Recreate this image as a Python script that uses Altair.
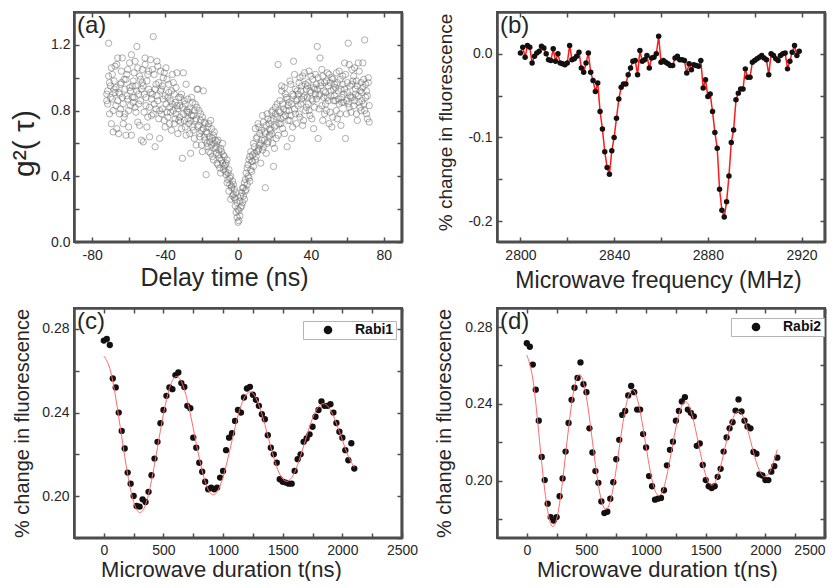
import altair as alt
import pandas as pd

FONT = "Liberation Sans"
INK = "#262626"
EDGE = "#4d4d4d"

# ---------------- (a) g2(tau) ----------------
a_t = [round(-72 + 0.5 * i, 1) for i in range(289)]
a_g2_1 = [
    0.86, 0.92, 1.21, 0.97, 0.88, 0.72, 1.02, 0.80, 0.93, 1.07,
    0.83, 0.69, 1.12, 0.91, 0.78, 0.96, 1.04, 0.88, 0.72, 0.99,
    0.93, 0.65, 1.02, 0.87, 0.80, 1.09, 0.92, 0.65, 0.95, 0.85,
    1.03, 0.82, 0.95, 1.19, 0.73, 0.90, 1.01, 0.86, 0.62, 0.97,
    0.61, 0.90, 1.08, 0.83, 0.98, 0.76, 1.04, 0.64, 0.91, 0.87,
    1.05, 1.25, 0.84, 0.58, 0.96, 0.89, 1.07, 0.75, 0.63, 0.92,
    0.78, 0.95, 0.87, 1.03, 0.70, 0.84, 0.99, 0.76, 0.91, 0.82,
    0.86, 0.68, 1.02, 0.80, 0.90, 0.75, 0.94, 0.83, 0.66, 0.88,
    0.83, 0.73, 0.90, 0.51, 0.78, 0.86, 0.70, 0.96, 0.80, 0.75,
    0.72, 0.81, 0.54, 0.77, 0.85, 0.68, 0.80, 0.74, 0.59, 0.82,
    0.93, 0.71, 0.64, 0.78, 0.68, 0.55, 0.92, 0.73, 0.62, 0.41,
    0.66, 0.58, 0.72, 0.61, 0.54, 0.69, 0.63, 0.50, 0.67, 0.57,
    0.58, 0.48, 0.62, 0.53, 0.45, 0.57, 0.50, 0.60, 0.44, 0.52,
    0.47, 0.41, 0.50, 0.38, 0.44, 0.35, 0.40, 0.33, 0.37, 0.29,
    0.27, 0.22, 0.30, 0.15, 0.12, 0.19, 0.25, 0.21, 0.30, 0.24,
    0.28, 0.36, 0.31, 0.42, 0.35, 0.47, 0.39, 0.52, 0.44, 0.49,
    0.53, 0.46, 0.58, 0.50, 0.63, 0.55, 0.72, 0.57, 0.66, 0.60,
    0.62, 0.77, 0.58, 0.67, 0.33, 0.71, 0.60, 0.75, 0.64, 0.69,
    0.74, 0.66, 0.80, 0.46, 0.70, 0.78, 0.63, 0.84, 1.08, 0.72,
    0.86, 0.75, 0.92, 0.69, 0.81, 0.94, 0.77, 0.88, 0.58, 0.83,
    0.85, 0.98, 0.77, 0.63, 0.90, 1.10, 0.81, 0.93, 0.72, 0.87,
    0.90, 0.78, 1.00, 0.84, 0.95, 0.71, 0.88, 1.03, 0.80, 0.93,
    0.95, 0.84, 1.04, 0.77, 0.91, 0.87, 0.99, 0.69, 0.93, 1.02,
    0.96, 1.19, 0.63, 0.89, 1.12, 0.97, 0.83, 1.01, 0.92, 0.78,
    0.91, 0.80, 1.03, 0.86, 0.72, 0.97, 0.89, 1.00, 0.76, 0.93,
    0.96, 0.86, 1.03, 0.75, 0.92, 0.84, 0.99, 0.71, 0.88, 1.01,
    0.90, 1.09, 0.63, 0.86, 0.97, 1.21, 0.82, 0.95, 0.88, 1.05,
    0.98, 0.83, 1.06, 0.90, 0.78, 0.95, 1.09, 0.85, 0.92, 0.80,
    0.91, 1.09, 0.84, 1.23, 0.96, 0.78, 0.89, 1.00, 0.73,
]
a_g2_2 = [
    0.90, 0.84, 1.01, 0.78, 0.95, 1.06, 0.87, 0.67, 0.98, 0.91,
    0.94, 1.08, 0.86, 0.66, 0.90, 0.81, 0.97, 1.12, 0.84, 0.76,
    0.78, 0.99, 0.89, 1.05, 0.70, 0.94, 0.83, 1.14, 0.88, 0.98,
    0.88, 1.10, 0.79, 0.92, 1.06, 0.84, 0.71, 0.99, 0.93, 1.05,
    0.95, 0.79, 1.12, 0.88, 0.70, 1.02, 0.93, 0.82, 1.11, 0.77,
    0.90, 0.78, 1.02, 0.93, 0.81, 1.10, 0.86, 0.97, 0.80, 1.04,
    0.93, 0.81, 1.00, 0.74, 0.89, 1.06, 0.79, 0.88, 0.96, 0.72,
    0.79, 0.92, 0.84, 0.97, 0.72, 0.85, 0.78, 1.03, 0.81, 0.74,
    0.76, 0.88, 0.69, 0.82, 1.03, 0.74, 0.84, 0.65, 0.79, 0.87,
    0.79, 0.66, 0.74, 0.88, 0.70, 0.77, 0.63, 0.84, 0.75, 0.93,
    0.70, 0.80, 0.66, 0.74, 0.59, 0.76, 0.69, 0.64, 0.72, 0.67,
    0.60, 0.70, 0.55, 0.64, 0.74, 0.59, 0.52, 0.65, 0.60, 0.62,
    0.54, 0.61, 0.47, 0.56, 0.51, 0.42, 0.55, 0.48, 0.53, 0.46,
    0.43, 0.48, 0.36, 0.42, 0.31, 0.39, 0.26, 0.34, 0.28, 0.35,
    0.32, 0.26, 0.18, 0.24, 0.20, 0.13, 0.16, 0.28, 0.22, 0.33,
    0.33, 0.26, 0.38, 0.32, 0.45, 0.40, 0.50, 0.37, 0.55, 0.43,
    0.49, 0.60, 0.54, 0.69, 0.52, 0.64, 0.56, 0.70, 0.59, 0.48,
    0.68, 0.56, 0.73, 0.62, 0.66, 0.54, 0.78, 0.61, 0.72, 0.65,
    0.68, 0.79, 0.60, 0.75, 0.57, 0.82, 0.71, 0.76, 0.65, 0.80,
    0.79, 0.72, 0.95, 0.84, 0.76, 0.66, 0.90, 0.80, 0.87, 0.74,
    0.80, 0.74, 0.96, 0.84, 0.70, 0.89, 1.02, 0.78, 0.86, 0.92,
    0.83, 0.97, 0.76, 0.92, 0.87, 1.01, 0.74, 0.89, 0.96, 0.82,
    0.88, 0.97, 0.80, 0.92, 1.01, 0.75, 0.86, 0.94, 0.82, 0.90,
    0.87, 0.93, 1.00, 0.81, 0.90, 0.95, 1.05, 0.74, 0.88, 0.97,
    0.84, 0.98, 0.88, 0.95, 1.02, 0.79, 0.92, 0.70, 0.99, 0.86,
    0.89, 0.94, 0.80, 0.97, 0.87, 1.04, 0.78, 0.93, 0.85, 0.96,
    0.85, 0.93, 1.02, 0.78, 0.91, 0.84, 1.08, 0.89, 0.79, 0.96,
    0.88, 1.01, 0.86, 0.93, 0.98, 0.74, 0.89, 1.04, 0.82, 0.97,
    0.86, 0.94, 0.99, 0.80, 0.88, 0.92, 0.75, 0.97, 0.83,
]
a_xticks = [-80, -60, -40, -20, 0, 20, 40, 60, 80]
a_yticks = [0.0, 0.2, 0.4, 0.6, 0.8, 1.0, 1.2]

# ---------------- (b) ODMR ----------------
b_freq = list(range(2800, 2920))
b_change = [
    0.001, 0.008, -0.004, 0.010, 0.008, -0.011, -0.003, 0.001, 0.003, 0.009,
    0.007, 0.000, -0.007, -0.008, 0.006, -0.009, 0.000, -0.011, -0.012, -0.013,
    -0.011, 0.010, -0.007, -0.006, -0.003, 0.002, -0.017, -0.022, -0.011, 0.001,
    -0.022, -0.032, -0.045, -0.035, -0.069, -0.090, -0.117, -0.136, -0.144, -0.116,
    -0.100, -0.077, -0.054, -0.040, -0.036, -0.036, -0.025, -0.017, -0.009, -0.008,
    -0.025, 0.004, -0.009, -0.007, -0.002, -0.017, -0.005, -0.004, 0.000, 0.021,
    -0.010, -0.008, -0.010, -0.012, -0.014, -0.014, -0.005, -0.003, -0.007, -0.007,
    -0.008, -0.023, -0.012, -0.019, -0.013, -0.014, -0.015, -0.008, -0.041, -0.031,
    -0.051, -0.048, -0.069, -0.094, -0.113, -0.162, -0.187, -0.195, -0.177, -0.146,
    -0.106, -0.091, -0.055, -0.047, -0.042, -0.042, -0.018, -0.028, -0.028, -0.010,
    -0.008, -0.006, -0.004, -0.002, -0.005, -0.007, -0.025, 0.000, -0.002, -0.006,
    -0.008, -0.002, 0.000, 0.001, -0.018, -0.009, 0.002, 0.010, -0.002, 0.003,
]
b_xticks = [2800, 2820, 2840, 2860, 2880, 2900, 2920]
b_yticks = [-0.2, -0.15, -0.1, -0.05, 0.0]

# ---------------- (c), (d) Rabi ----------------
rabi_t = list(range(0, 2101, 25))
rabi1 = [
    0.2744, 0.2752, 0.2723, 0.2563, 0.2520, 0.2400, 0.2312, 0.2228, 0.2113, 0.2060,
    0.2001, 0.1953, 0.1950, 0.1985, 0.1972, 0.2021, 0.2100, 0.2180, 0.2260, 0.2349,
    0.2412, 0.2480, 0.2520, 0.2512, 0.2579, 0.2592, 0.2541, 0.2522, 0.2432, 0.2421,
    0.2280, 0.2232, 0.2160, 0.2117, 0.2069, 0.2033, 0.2041, 0.2033, 0.2041, 0.2089,
    0.2121, 0.2220, 0.2280, 0.2301, 0.2360, 0.2412, 0.2400, 0.2472, 0.2515, 0.2523,
    0.2485, 0.2461, 0.2432, 0.2392, 0.2368, 0.2292, 0.2232, 0.2200, 0.2160, 0.2081,
    0.2069, 0.2065, 0.2060, 0.2060, 0.2121, 0.2177, 0.2200, 0.2260, 0.2276, 0.2296,
    0.2332, 0.2380, 0.2412, 0.2453, 0.2432, 0.2432, 0.2440, 0.2400, 0.2350, 0.2308,
    0.2280, 0.2220, 0.2172, 0.2253, 0.2132,
]
rabi2 = [
    0.2716, 0.2698, 0.2605, 0.2474, 0.2312, 0.2123, 0.2002, 0.1879, 0.1809, 0.1791,
    0.1809, 0.1918, 0.2011, 0.2151, 0.2300, 0.2421, 0.2484, 0.2535, 0.2616, 0.2502,
    0.2461, 0.2272, 0.2146, 0.2049, 0.1988, 0.1891, 0.1830, 0.1837, 0.1905, 0.1991,
    0.2111, 0.2212, 0.2342, 0.2363, 0.2444, 0.2493, 0.2461, 0.2370, 0.2370, 0.2242,
    0.2172, 0.2023, 0.1970, 0.1900, 0.1905, 0.1909, 0.1949, 0.2079, 0.2160, 0.2202,
    0.2312, 0.2363, 0.2412, 0.2435, 0.2370, 0.2353, 0.2335, 0.2181, 0.2193, 0.2081,
    0.2002, 0.1970, 0.1961, 0.1970, 0.2019, 0.2061, 0.2151, 0.2225, 0.2272, 0.2304,
    0.2365, 0.2423, 0.2360, 0.2312, 0.2282, 0.2272, 0.2149, 0.2140, 0.2032, 0.2026,
    0.2002, 0.2002, 0.2046, 0.2075, 0.2119,
]
fit_t = list(range(0, 2101, 50))
fit1 = [
    0.2670, 0.2611, 0.2470, 0.2284, 0.2104, 0.1973, 0.1922, 0.1960, 0.2075, 0.2233,
    0.2393, 0.2515, 0.2571, 0.2549, 0.2458, 0.2324, 0.2183, 0.2069, 0.2011, 0.2021,
    0.2092, 0.2204, 0.2328, 0.2432, 0.2491, 0.2492, 0.2437, 0.2343, 0.2235, 0.2140,
    0.2082, 0.2074, 0.2115, 0.2193, 0.2287, 0.2372, 0.2428, 0.2442, 0.2413, 0.2349,
    0.2268, 0.2191, 0.2138,
]
fit2 = [
    0.2654, 0.2531, 0.2250, 0.1951, 0.1775, 0.1798, 0.1999, 0.2273, 0.2490, 0.2550,
    0.2434, 0.2205, 0.1977, 0.1855, 0.1893, 0.2062, 0.2278, 0.2437, 0.2467, 0.2361,
    0.2176, 0.2003, 0.1922, 0.1966, 0.2108, 0.2276, 0.2391, 0.2401, 0.2307, 0.2159,
    0.2028, 0.1976, 0.2022, 0.2139, 0.2270, 0.2351, 0.2348, 0.2267, 0.2149, 0.2052,
    0.2020, 0.2064, 0.2161,
]
rabi_xticks = [0, 250, 500, 750, 1000, 1250, 1500, 1750, 2000, 2250, 2500]
rabi_yticks = [0.18, 0.20, 0.22, 0.24, 0.26, 0.28]

W, H = 328, 230


def label_axis(orient, values, expr, title, tsize, lpad, tpad=0, tx=None, ty=None, flush=False):
    extra = {}
    if tx is not None:
        extra["titleX"] = tx
    if ty is not None:
        extra["titleY"] = ty
    return alt.Axis(
        orient=orient, values=values, labelExpr=expr, title=title,
        ticks=False, domain=True, domainColor=EDGE, domainWidth=2, domainOpacity=1,
        grid=False,
        labelPadding=lpad, labelFont=FONT, labelFontSize=14, labelColor=INK,
        labelOverlap=False, labelFlush=flush,
        titleFont=FONT, titleFontSize=tsize, titleFontWeight="normal",
        titleColor=INK, titlePadding=tpad, **extra,
    )


def tick_axis(orient, values, offset, domain):
    return alt.Axis(orient=orient, values=values, labels=False, title=None,
                    offset=offset, tickSize=5, tickWidth=1.5, tickColor=EDGE,
                    domain=domain, domainColor=EDGE, domainWidth=2, domainOpacity=1,
                    grid=False)


def tick_layers(df, xf, yf, xs, ys, xt, yt):
    inner1 = alt.Chart(df).mark_point(opacity=0).encode(
        x=alt.X(xf, scale=xs, axis=tick_axis("top", xt, -H, False)),
        y=alt.Y(yf, scale=ys, axis=tick_axis("right", yt, -W, False)),
    )
    inner2 = alt.Chart(df).mark_point(opacity=0).encode(
        x=alt.X(xf, scale=xs, axis=tick_axis("bottom", xt, -H, True)),
        y=alt.Y(yf, scale=ys, axis=tick_axis("left", yt, -W, True)),
    )
    return [inner1, inner2]


def frame():
    # the four edges of the plot box, as thin filled strips plus rules
    base = alt.Chart(pd.DataFrame({"k": [0]}))
    s = 1.6
    strips = [
        base.mark_rect(fill=EDGE, opacity=1).encode(
            x=alt.value(0), x2=alt.value(W), y=alt.value(0), y2=alt.value(s)),
        base.mark_rect(fill=EDGE, opacity=1).encode(
            x=alt.value(0), x2=alt.value(W), y=alt.value(H - s), y2=alt.value(H)),
        base.mark_rect(fill=EDGE, opacity=1).encode(
            x=alt.value(0), x2=alt.value(s), y=alt.value(0), y2=alt.value(H)),
        base.mark_rect(fill=EDGE, opacity=1).encode(
            x=alt.value(W - s), x2=alt.value(W), y=alt.value(0), y2=alt.value(H)),
    ]
    style = dict(color=EDGE, strokeWidth=2, opacity=1)
    rules = [
        base.mark_rule(**style).encode(x=alt.value(0), x2=alt.value(W), y=alt.value(0)),
        base.mark_rule(**style).encode(x=alt.value(0), x2=alt.value(W), y=alt.value(H)),
        base.mark_rule(**style).encode(x=alt.value(0), y=alt.value(0), y2=alt.value(H)),
        base.mark_rule(**style).encode(x=alt.value(W), y=alt.value(0), y2=alt.value(H)),
    ]
    return strips + rules


def tag(txt):
    return alt.Chart(pd.DataFrame({"tag": [txt]})).mark_text(
        align="left", baseline="top", font=FONT, fontSize=24, color=INK
    ).encode(text="tag:N", x=alt.value(3), y=alt.value(2))


def rabi_legend(x, y):
    return alt.Legend(
        title=None, orient="none", legendX=x, legendY=y,
        strokeColor="#b4b4b4", fillColor="white", padding=2,
        symbolType="circle", symbolSize=75, symbolStrokeWidth=0, symbolOffset=16,
        labelOffset=20, labelFont=FONT, labelFontSize=14, labelFontWeight="bold",
        labelColor="#111111",
    )


# ---- panel a ----
dfa = pd.DataFrame({"t": a_t + a_t, "g2": a_g2_1 + a_g2_2})
xa = alt.Scale(domain=[-90, 90], nice=False, zero=False)
ya = alt.Scale(domain=[0, 1.4], nice=False, zero=False)
pts_a = alt.Chart(dfa).mark_point(
    shape="circle", filled=False, size=40, color="#6e6e6e", strokeWidth=0.8
).encode(
    x=alt.X("t:Q", scale=xa, axis=label_axis(
        "bottom", a_xticks, "datum.value % 40 == 0 ? '' + datum.value : ''",
        "Delay time (ns)", 25, 6, tpad=3, tx=150)),
    y=alt.Y("g2:Q", scale=ya, axis=label_axis(
        "left", a_yticks, "round(datum.value * 10) % 4 == 0 ? format(datum.value, '.1f') : ''",
        "g²( τ)", 30, 4, tx=-35, ty=131)),
)
pA = alt.layer(pts_a, *tick_layers(dfa, "t:Q", "g2:Q", xa, ya, a_xticks, a_yticks),
               *frame(), tag("(a)")
               ).resolve_axis(x="independent", y="independent").properties(width=W, height=H)

# ---- panel b ----
dfb = pd.DataFrame({"f": b_freq, "v": b_change})
xb = alt.Scale(domain=[2790, 2930], nice=False, zero=False)
yb = alt.Scale(domain=[-0.225, 0.05], nice=False, zero=False)
line_b = alt.Chart(dfb).mark_line(color="#ff1a1a", strokeWidth=1.5).encode(
    x=alt.X("f:Q", scale=xb, axis=None), y=alt.Y("v:Q", scale=yb, axis=None))
pts_b = alt.Chart(dfb).mark_circle(size=30, color="#141010", opacity=1).encode(
    x=alt.X("f:Q", scale=xb, axis=label_axis(
        "bottom", b_xticks, "(datum.value - 2800) % 40 == 0 ? '' + datum.value : ''",
        "Microwave frequency (MHz)", 23, 6, tpad=7, tx=161)),
    y=alt.Y("v:Q", scale=yb, axis=label_axis(
        "left", b_yticks,
        "round(datum.value * 100) % 10 == 0 ? (datum.value < -0.001 ? '-' : '') + format(abs(datum.value), '.1f') : ''",
        "% change in fluorescence", 19, 5, tx=-42, ty=110)),
)
pB = alt.layer(line_b, pts_b, *tick_layers(dfb, "f:Q", "v:Q", xb, yb, b_xticks, b_yticks),
               *frame(), tag("(b)")
               ).resolve_axis(x="independent", y="independent").properties(width=W, height=H)


# ---- panels c, d ----
def rabi_panel(vals, fit, ydom, name, label, lx, ly, ytx, xtx, flush):
    df = pd.DataFrame({"t": rabi_t, "v": vals, "series": [name] * len(rabi_t)})
    dff = pd.DataFrame({"t": fit_t, "v": fit})
    xs = alt.Scale(domain=[-250, 2500], nice=False, zero=False)
    ys = alt.Scale(domain=ydom, nice=False, zero=False)
    pts = alt.Chart(df).mark_circle(size=40, opacity=1).encode(
        x=alt.X("t:Q", scale=xs, axis=label_axis(
            "bottom", rabi_xticks, "datum.value % 500 == 0 ? '' + datum.value : ''",
            "Microwave duration t(ns)", 22, 5, tpad=2, tx=xtx, flush=flush)),
        y=alt.Y("v:Q", scale=ys, axis=label_axis(
            "left", rabi_yticks,
            "round(datum.value * 100) % 4 == 0 ? format(datum.value, '.2f') : ''",
            "% change in fluorescence", 20, 5, tx=ytx, ty=115)),
        color=alt.Color("series:N", scale=alt.Scale(range=["#141010"]),
                        legend=rabi_legend(lx, ly)),
    )
    fitl = alt.Chart(dff).mark_line(color="#ff6a6a", strokeWidth=1, interpolate="natural").encode(
        x=alt.X("t:Q", scale=xs, axis=None), y=alt.Y("v:Q", scale=ys, axis=None))
    return alt.layer(pts, fitl, *tick_layers(df, "t:Q", "v:Q", xs, ys, rabi_xticks, rabi_yticks),
                     *frame(), tag(label)).resolve_axis(x="independent", y="independent").properties(
        width=W, height=H)


pC = rabi_panel(rabi1, fit1, [0.18, 0.29], "Rabi1", "(c)", 229, 13, -42, 147, False)
pD = rabi_panel(rabi2, fit2, [0.17, 0.29], "Rabi2", "(d)", 234, 10, -43, 160, True)

chart = alt.concat(
    pA, pB, pC, pD, columns=2, spacing={"row": 66, "column": 95}, bounds="flush"
).resolve_scale(color="independent").properties(
    padding={"left": 0, "top": 2, "right": 0, "bottom": 0}, background="white"
).configure_view(stroke=EDGE, strokeWidth=2)

chart.save("out.html", embed_options={"renderer": "svg", "actions": False})
